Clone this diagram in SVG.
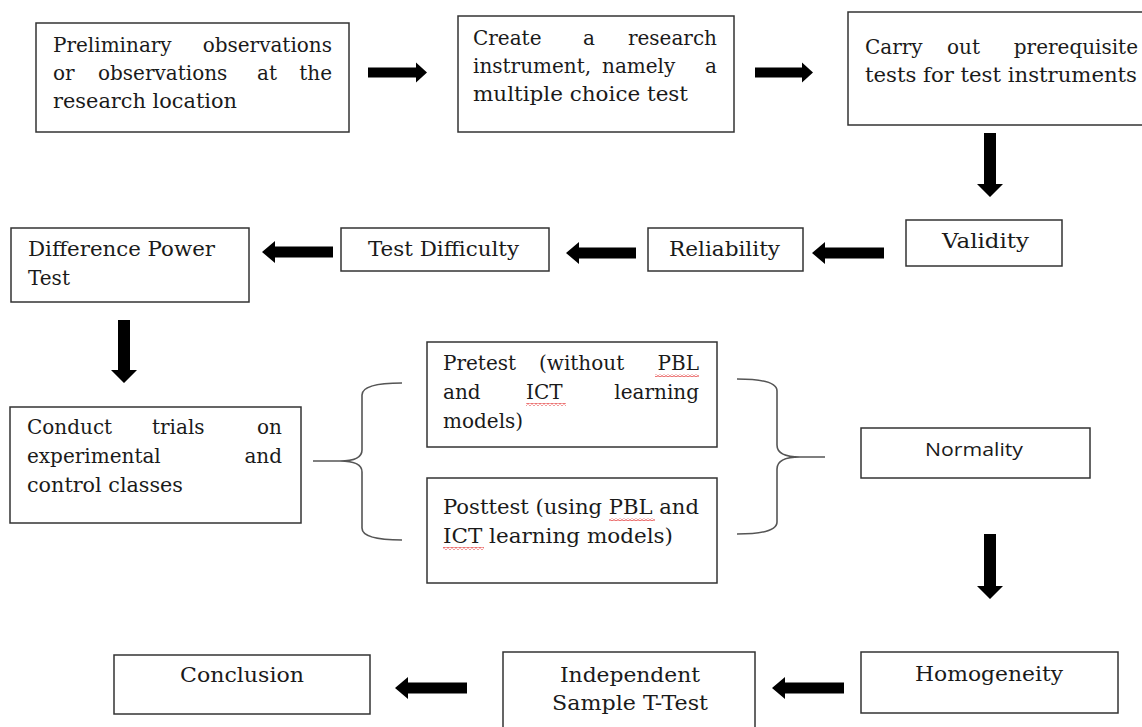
<svg xmlns="http://www.w3.org/2000/svg" width="1142" height="727" viewBox="0 0 1142 727">
<defs>
<style>
.box{fill:#fff;stroke:#333;stroke-width:1.5}
.t{font-family:"DejaVu Serif","Liberation Serif",serif;font-size:20px;fill:#1a1a1a}
.s{font-family:"Open Sans","Liberation Sans",sans-serif;font-size:19px;fill:#1a1a1a}
.arrow{fill:#000}
.brace{fill:none;stroke:#555;stroke-width:1.6}
.sq{fill:url(#squig)}
</style>
<pattern id="squig" width="4" height="3" patternUnits="userSpaceOnUse">
<path d="M0,2.2 L2,0.6 L4,2.2" fill="none" stroke="#e02020" stroke-width="0.9"/>
</pattern>
</defs>
<rect width="1142" height="727" fill="#fff"/>

<g id="connectors">
<path class="arrow" d="M368,67.5 H416 V62.5 L427,72.5 L416,82.5 V77.5 H368 Z"/>
<path class="arrow" d="M755,67.5 H802 V62.5 L813,72.5 L802,82.5 V77.5 H755 Z"/>
<path class="arrow" d="M984,133 H996 V184 H1003 L990,197 L977,184 H984 Z"/>
<path class="arrow" d="M884,247.5 H825 V242 L812,253 L825,264 V258.5 H884 Z"/>
<path class="arrow" d="M636,247.5 H579 V242 L566,253 L579,264 V258.5 H636 Z"/>
<path class="arrow" d="M333,246.5 H275 V241 L262,252 L275,263 V257.5 H333 Z"/>
<path class="arrow" d="M118,320 H130 V370 H137 L124,383 L111,370 H118 Z"/>
<path class="arrow" d="M984,534 H996 V586 H1003 L990,599 L977,586 H984 Z"/>
<path class="arrow" d="M844,682.5 H785 V677 L772,688 L785,699 V693.5 H844 Z"/>
<path class="arrow" d="M467,682.5 H408 V677 L395,688 L408,699 V693.5 H467 Z"/>
<path class="brace" d="M402,383 Q362,383 362,395 L362,450 Q362,461 340,461 L313,461 M340,461 Q362,461 362,472 L362,528 Q362,540 402,540"/>
<path class="brace" d="M737,379 Q777,379 777,391 L777,445 Q777,457 800,457 L825,457 M800,457 Q777,457 777,469 L777,522 Q777,534 737,534"/>
</g>

<g id="n1">
<rect class="box" x="36" y="23" width="313" height="109"/>
<text class="t" x="53" y="52">Preliminary</text>
<text class="t" x="332" y="52" text-anchor="end">observations</text>
<text class="t" x="53" y="80">or</text>
<text class="t" x="98" y="80">observations</text>
<text class="t" x="257" y="80">at</text>
<text class="t" x="332" y="80" text-anchor="end">the</text>
<text class="t" x="53" y="108" textLength="184" lengthAdjust="spacingAndGlyphs">research location</text>
</g>

<g id="n2">
<rect class="box" x="458" y="16" width="276" height="116"/>
<text class="t" x="473" y="45">Create</text>
<text class="t" x="583" y="45">a</text>
<text class="t" x="717" y="45" text-anchor="end">research</text>
<text class="t" x="473" y="73">instrument,</text>
<text class="t" x="602" y="73">namely</text>
<text class="t" x="717" y="73" text-anchor="end">a</text>
<text class="t" x="473" y="101" textLength="215" lengthAdjust="spacingAndGlyphs">multiple choice test</text>
</g>

<g id="n3">
<rect class="box" x="848" y="12" width="300" height="113"/>
<text class="t" x="865" y="54">Carry</text>
<text class="t" x="947" y="54">out</text>
<text class="t" x="1138" y="54" text-anchor="end">prerequisite</text>
<text class="t" x="865" y="82" textLength="272" lengthAdjust="spacingAndGlyphs">tests for test instruments</text>
</g>

<g id="n4">
<rect class="box" x="906" y="220" width="156" height="46"/>
<text class="t" x="942" y="248" textLength="87" lengthAdjust="spacingAndGlyphs">Validity</text>
</g>

<g id="n5">
<rect class="box" x="648" y="228" width="155" height="43"/>
<text class="t" x="669" y="256" textLength="111" lengthAdjust="spacingAndGlyphs">Reliability</text>
</g>

<g id="n6">
<rect class="box" x="341" y="228" width="208" height="43"/>
<text class="t" x="368" y="256" textLength="151" lengthAdjust="spacingAndGlyphs">Test Difficulty</text>
</g>

<g id="n7">
<rect class="box" x="11" y="228" width="238" height="74"/>
<text class="t" x="28" y="256" textLength="187" lengthAdjust="spacingAndGlyphs">Difference Power</text>
<text class="t" x="28" y="285">Test</text>
</g>

<g id="n8">
<rect class="box" x="10" y="407" width="291" height="116"/>
<text class="t" x="27" y="434">Conduct</text>
<text class="t" x="152" y="434">trials</text>
<text class="t" x="282" y="434" text-anchor="end">on</text>
<text class="t" x="27" y="463">experimental</text>
<text class="t" x="282" y="463" text-anchor="end">and</text>
<text class="t" x="27" y="492" textLength="156" lengthAdjust="spacingAndGlyphs">control classes</text>
</g>

<g id="n9">
<rect class="box" x="427" y="342" width="290" height="105"/>
<text class="t" x="443" y="370">Pretest</text>
<text class="t" x="539" y="370">(without</text>
<text class="t" x="699" y="370" text-anchor="end">PBL</text>
<text class="t" x="443" y="399">and</text>
<text class="t" x="526" y="399">ICT</text>
<text class="t" x="699" y="399" text-anchor="end">learning</text>
<text class="t" x="443" y="428">models)</text>
<rect class="sq" x="655" y="374" width="44" height="3"/>
<rect class="sq" x="526" y="403" width="40" height="3"/>
</g>

<g id="n10">
<rect class="box" x="427" y="478" width="290" height="105"/>
<text class="t" x="443" y="514" textLength="256" lengthAdjust="spacingAndGlyphs">Posttest (using PBL and</text>
<text class="t" x="443" y="543" textLength="230" lengthAdjust="spacingAndGlyphs">ICT learning models)</text>
<rect class="sq" x="609" y="518" width="46" height="3"/>
<rect class="sq" x="443" y="547" width="41" height="3"/>
</g>

<g id="n11">
<rect class="box" x="861" y="428" width="229" height="50"/>
<text class="s" x="925" y="456" textLength="98" lengthAdjust="spacingAndGlyphs">Normality</text>
</g>

<g id="n12">
<rect class="box" x="861" y="652" width="257" height="61"/>
<text class="t" x="915" y="681" textLength="148" lengthAdjust="spacingAndGlyphs">Homogeneity</text>
</g>

<g id="n13">
<rect class="box" x="503" y="652" width="252" height="80"/>
<text class="t" x="560" y="682" textLength="140" lengthAdjust="spacingAndGlyphs">Independent</text>
<text class="t" x="552" y="710" textLength="156" lengthAdjust="spacingAndGlyphs">Sample T-Test</text>
</g>

<g id="n14">
<rect class="box" x="114" y="655" width="256" height="59"/>
<text class="t" x="180" y="682" textLength="124" lengthAdjust="spacingAndGlyphs">Conclusion</text>
</g>
</svg>
